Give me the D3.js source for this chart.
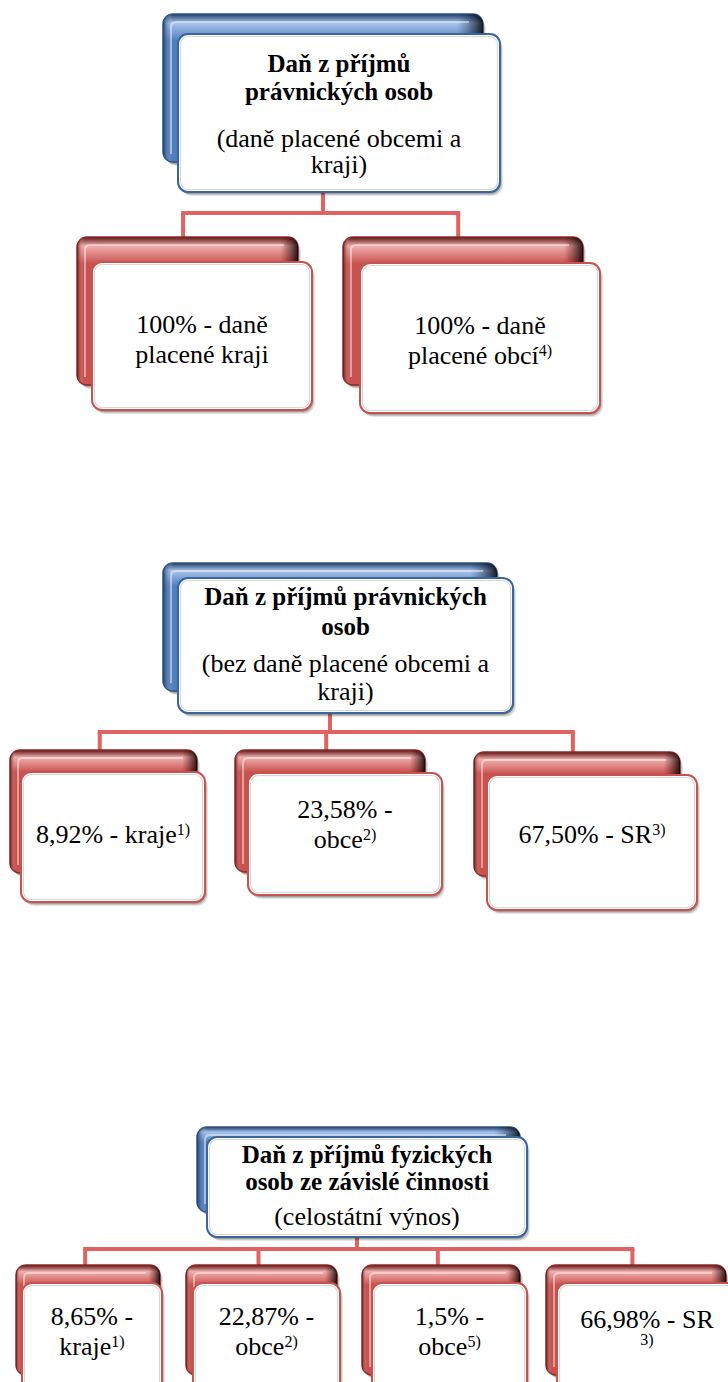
<!DOCTYPE html>
<html>
<head>
<meta charset="utf-8">
<script src="https://cdn.jsdelivr.net/npm/d3@7"></script>
<style>
  html,body{margin:0;padding:0;background:#fff;}
  svg{display:block;}
</style>
</head>
<body>
<svg id="chart" width="728" height="1382"></svg>
<script>
// ---------- DATA (text content) ----------
const titleLines = [
  ["Daň z příjmů", "právnických osob"],
  ["Daň z příjmů právnických", "osob"],
  ["Daň z příjmů fyzických", "osob ze závislé činnosti"]
];
const subtitleLines = [
  ["(daně placené obcemi a", "kraji)"],
  ["(bez daně placené obcemi a", "kraji)"],
  ["(celostátní výnos)"]
];
// "^" marks a superscript note, "\n" a line break
const shares1 = ["100% -  daně\nplacené kraji", "100% -  daně\nplacené obcí^4)"];
const shares2 = ["8,92% - kraje^1)", "23,58% -\nobce^2)", "67,50% - SR^3)"];
const shares3 = ["8,65% -\nkraje^1)", "22,87% -\nobce^2)", "1,5% -\nobce^5)", "66,98% - SR\n^3)"];
const shareGroups = [shares1, shares2, shares3];

// ---------- LAYOUT (positions / sizes) ----------
const layout = [
  { back:[163,14,320,148], front:[178,34,322,158], titleY:72, subY:147, titleLH:28, subLH:26,
    stemX:323, barY:213,
    kids:[ {back:[77,237,221,148], front:[92,262,220,148], textY:333},
           {back:[343,237,240,148], front:[360,263,240,150], textY:334} ] },
  { back:[163,563,334,128], front:[178,578,335,135], titleY:605, subY:672, titleLH:30, subLH:28,
    stemX:330, barY:732,
    kids:[ {back:[10,750,187,123], front:[21,772,184,130], textY:843},
           {back:[235,750,190,122], front:[248,773,194,122], textY:818},
           {back:[474,752,206,124], front:[487,775,210,135], textY:843} ] },
  { back:[197,1127,323,85], front:[207,1137,320,100], titleY:1163, subY:1225, titleLH:27, subLH:26,
    stemX:357, barY:1249,
    kids:[ {back:[16,1265,144,110], front:[22,1283,140,110], textY:1325},
           {back:[186,1265,151,110], front:[193,1283,147,110], textY:1325},
           {back:[362,1265,158,110], front:[372,1283,155,110], textY:1325},
           {back:[546,1265,180,110], front:[557,1283,180,110], textY:1328} ] }
];

const FONT = "Liberation Serif";
const svg = d3.select("#chart");
const defs = svg.append("defs");

function bevelGrad(id, light, mid, dark) {
  const g = defs.append("linearGradient").attr("id", id).attr("x1",0).attr("y1",0).attr("x2",0).attr("y2",1);
  g.append("stop").attr("offset","0%").attr("stop-color", dark);
  g.append("stop").attr("offset","6%").attr("stop-color", light);
  g.append("stop").attr("offset","18%").attr("stop-color", mid);
  g.append("stop").attr("offset","100%").attr("stop-color", mid);
  const h = defs.append("linearGradient").attr("id", id+"H").attr("x1",0).attr("y1",0).attr("x2",1).attr("y2",0);
  h.append("stop").attr("offset","0%").attr("stop-color", dark).attr("stop-opacity",0.9);
  h.append("stop").attr("offset","3%").attr("stop-color", light).attr("stop-opacity",0.0);
  h.append("stop").attr("offset","92%").attr("stop-color", dark).attr("stop-opacity",0.0);
  h.append("stop").attr("offset","100%").attr("stop-color", "#000").attr("stop-opacity",0.85);
}
bevelGrad("blueG", "#a9c4ea", "#4f7fc0", "#1d3b66");
bevelGrad("redG", "#f0b0ae", "#c9524f", "#5c1413");

const colors = {
  blue: { grad:"blueG", outline:"#2c5282", frontStroke:"#3a659e" },
  red:  { grad:"redG",  outline:"#8a2a28", frontStroke:"#c65350" }
};
const connColor = "#e06361";

function shadow(g, x, y, w, h) {
  [[4,0.10],[3,0.14],[2,0.18]].forEach(([d,o]) =>
    g.append("rect").attr("x",x+d-1).attr("y",y+d).attr("width",w).attr("height",h).attr("rx",11)
      .attr("fill","#000").attr("fill-opacity",o));
}
function drawBack(g, r, c) {
  const [x,y,w,h] = r;
  shadow(g, x, y, w, h);
  g.append("rect").attr("x",x).attr("y",y).attr("width",w).attr("height",h).attr("rx",10)
    .attr("fill",`url(#${c.grad})`).attr("stroke",c.outline).attr("stroke-width",1.5);
  g.append("rect").attr("x",x).attr("y",y).attr("width",w).attr("height",h).attr("rx",10)
    .attr("fill",`url(#${c.grad}H)`);
  g.append("path").attr("d",`M${x+8},${y+h-8} L${x+8},${y+13} Q${x+8},${y+8} ${x+13},${y+8} L${x+w-14},${y+8}`)
    .attr("fill","none").attr("stroke","#fff").attr("stroke-opacity",0.45).attr("stroke-width",2);
}
function drawFront(g, r, c) {
  const [x,y,w,h] = r;
  shadow(g, x, y, w, h);
  g.append("rect").attr("x",x).attr("y",y).attr("width",w).attr("height",h).attr("rx",10)
    .attr("fill","#fff").attr("stroke",c.frontStroke).attr("stroke-width",2);
  g.append("rect").attr("x",x+2.5).attr("y",y+2.5).attr("width",w-5).attr("height",h-5).attr("rx",8)
    .attr("fill","none").attr("stroke","#d8d8d8").attr("stroke-width",1.2);
}

function addRichLine(textSel, str, x, y, size) {
  const t = textSel.append("tspan").attr("x", x).attr("y", y);
  const parts = str.split("^");
  if (parts[0].length) t.append("tspan").text(parts[0]);
  if (parts.length > 1) {
    t.append("tspan").attr("font-size", Math.round(size*0.62)).attr("dy", -size*0.32).text(parts[1]);
  }
}

// boxes and connectors
layout.forEach((L) => {
  const g = svg.append("g");
  const conn = g.append("g").attr("stroke",connColor).attr("stroke-width",4).attr("fill","none");
  const kidX = L.kids.map(k => k.back[0] + k.back[2]*0.48);
  const xs = d3.extent(kidX);
  conn.append("line").attr("x1",L.stemX).attr("x2",L.stemX).attr("y1",L.front[1]+L.front[3]-4).attr("y2",L.barY);
  conn.append("line").attr("x1",xs[0]-2).attr("x2",xs[1]+2).attr("y1",L.barY).attr("y2",L.barY);
  kidX.forEach(x => conn.append("line").attr("x1",x).attr("x2",x).attr("y1",L.barY).attr("y2",L.kids[0].back[1]+4));
  drawBack(g, L.back, colors.blue);
  drawFront(g, L.front, colors.blue);
  L.kids.forEach(K => { drawBack(g, K.back, colors.red); drawFront(g, K.front, colors.red); });
});

// regular-weight texts first (so the regular face is resolved before the bold one)
const regLayer = svg.append("g").attr("fill","#000").attr("font-family",FONT).attr("font-weight","normal");
layout.forEach((L, gi) => {
  const cx = L.front[0] + L.front[2]/2;
  const st = regLayer.append("text").attr("text-anchor","middle").attr("font-size",26);
  subtitleLines[gi].forEach((s,i) => st.append("tspan").attr("x",cx).attr("y",L.subY + i*L.subLH).text(s));
  L.kids.forEach((K, ki) => {
    const kx = K.front[0] + K.front[2]/2;
    const txt = regLayer.append("text").attr("text-anchor","middle").attr("font-size",26);
    shareGroups[gi][ki].split("\n").forEach((line, li) => {
      const isNoteOnly = line.startsWith("^");
      addRichLine(txt, line, kx, K.textY + li*(isNoteOnly ? 25 : 30), 26);
    });
  });
});

// bold titles last
const boldLayer = svg.append("g").attr("fill","#000").attr("font-family",FONT).attr("font-weight","bold");
layout.forEach((L, gi) => {
  const cx = L.front[0] + L.front[2]/2;
  const tt = boldLayer.append("text").attr("text-anchor","middle").attr("font-size",25);
  titleLines[gi].forEach((s,i) => tt.append("tspan").attr("x",cx).attr("y",L.titleY + i*L.titleLH).text(s));
});
</script>
</body>
</html>
